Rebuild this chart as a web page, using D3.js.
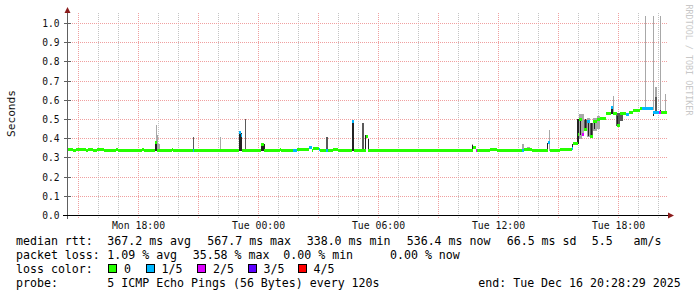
<!DOCTYPE html>
<html>
<head>
<meta charset="utf-8">
<script src="https://cdn.jsdelivr.net/npm/d3@7"></script>
<style>
  body { margin: 0; background: #fff; }
  svg { display: block; font-family: "DejaVu Sans Mono", monospace; }
</style>
</head>
<body>
<svg id="chart"></svg>
<script>

// Data /////////////////////////////////////////

const timeStart = "2025-12-15 14:28:29";
const timeEnd = "2025-12-16 20:28:29";

// median rtt in ms, held until the next entry, with lost pings out of 5
const medianSteps = [
    ["15 14:28", 343, 0], ["15 14:45", 338, 0], ["15 14:54", 343, 0], ["15 15:24", 338, 0],
    ["15 15:30", 343, 0], ["15 15:45", 338, 0], ["15 15:57", 343, 0], ["15 16:18", 338, 0],
    ["15 16:54", 342, 0], ["15 17:00", 338, 0], ["15 18:12", 342, 0], ["15 18:18", 338, 0],
    ["15 18:51", 378, 0], ["15 18:57", 338, 0], ["15 19:42", 342, 0], ["15 19:45", 338, 0],
    ["15 20:45", 338, 1], ["15 20:48", 338, 0], ["15 23:03", 430, 1], ["15 23:09", 418, 1],
    ["15 23:12", 338, 0], ["16 00:09", 372, 0], ["16 00:18", 338, 0], ["16 01:06", 342, 0],
    ["16 01:09", 338, 0], ["16 01:45", 338, 1], ["16 01:57", 342, 0], ["16 02:12", 345, 0],
    ["16 02:33", 352, 1], ["16 02:42", 338, 0], ["16 02:45", 350, 0], ["16 03:03", 345, 1],
    ["16 03:06", 338, 0], ["16 03:24", 338, 1], ["16 03:30", 338, 0], ["16 03:45", 342, 0],
    ["16 04:00", 338, 0], ["16 04:42", 492, 1], ["16 04:48", 338, 0], ["16 05:24", 412, 0],
    ["16 05:30", 338, 0], ["16 10:45", 355, 0], ["16 10:54", 338, 2], ["16 10:57", 338, 0],
    ["16 11:36", 342, 0], ["16 11:57", 338, 0], ["16 12:57", 341, 0], ["16 13:12", 338, 1],
    ["16 13:18", 345, 0], ["16 13:42", 338, 0], ["16 14:30", 380, 1], ["16 14:36", 338, 0],
    ["16 15:06", 342, 0], ["16 15:42", 347, 1], ["16 15:45", 375, 0], ["16 16:00", 420, 0],
    ["16 16:03", 500, 0], ["16 16:12", 420, 2], ["16 16:18", 450, 0], ["16 16:27", 490, 1],
    ["16 16:36", 410, 0], ["16 16:45", 490, 0], ["16 16:57", 500, 0], ["16 17:06", 505, 0],
    ["16 17:24", 530, 0], ["16 17:39", 560, 1], ["16 17:45", 530, 0], ["16 17:57", 470, 0],
    ["16 18:06", 530, 0], ["16 18:24", 525, 1], ["16 18:33", 535, 0], ["16 18:45", 545, 0],
    ["16 19:06", 555, 0], ["16 19:12", 555, 1], ["16 19:45", 535, 1], ["16 20:03", 535, 2],
    ["16 20:09", 535, 0]
];

// smoke: from, to, lowest ms, highest ms, density (0 light .. 2 dense)
const smoke = [
    ["15 18:51", "15 18:57", 338, 378, 2], ["15 18:54", "15 18:57", 378, 469, 0],
    ["15 18:57", "15 19:00", 338, 417, 0], ["15 19:00", "15 19:06", 338, 370, 0],
    ["15 20:45", "15 20:48", 338, 408, 1], ["15 22:06", "15 22:09", 338, 410, 0],
    ["15 23:03", "15 23:12", 338, 430, 2], ["15 23:21", "15 23:24", 338, 503, 1],
    ["16 00:09", "16 00:21", 338, 372, 2], ["16 02:00", "16 02:12", 338, 346, 0],
    ["16 03:24", "16 03:30", 338, 410, 1], ["16 04:42", "16 04:48", 338, 495, 2],
    ["16 05:12", "16 05:18", 338, 480, 1], ["16 05:21", "16 05:24", 338, 417, 2],
    ["16 05:30", "16 05:33", 338, 400, 2], ["16 07:51", "16 07:54", 338, 346, 0],
    ["16 10:00", "16 10:03", 338, 345, 0], ["16 10:42", "16 10:45", 338, 375, 0],
    ["16 10:42", "16 10:45", 338, 368, 2], ["16 12:57", "16 13:42", 338, 345, 0],
    ["16 13:12", "16 13:18", 338, 370, 0], ["16 13:27", "16 13:36", 338, 355, 0],
    ["16 13:39", "16 13:42", 338, 346, 2], ["16 14:27", "16 14:30", 338, 380, 2],
    ["16 14:33", "16 14:36", 338, 443, 0], ["16 15:42", "16 15:45", 345, 370, 2],
    ["16 15:57", "16 16:03", 375, 505, 2], ["16 16:03", "16 16:12", 400, 530, 0],
    ["16 16:06", "16 16:09", 420, 500, 2], ["16 16:12", "16 16:18", 420, 530, 0],
    ["16 16:18", "16 16:27", 440, 500, 1], ["16 16:21", "16 16:24", 440, 505, 2],
    ["16 16:27", "16 16:36", 410, 510, 0], ["16 16:30", "16 16:33", 415, 500, 2],
    ["16 16:36", "16 16:45", 410, 480, 1], ["16 16:39", "16 16:42", 405, 480, 2],
    ["16 16:45", "16 16:57", 440, 510, 0], ["16 16:48", "16 16:51", 450, 490, 2],
    ["16 16:57", "16 17:06", 450, 520, 0], ["16 17:39", "16 17:45", 530, 565, 2],
    ["16 17:45", "16 17:48", 530, 625, 0], ["16 17:54", "16 18:06", 465, 535, 1],
    ["16 17:57", "16 18:00", 470, 520, 2], ["16 18:06", "16 18:15", 490, 530, 1],
    ["16 19:21", "16 19:24", 550, 1040, 0], ["16 19:45", "16 19:48", 550, 1040, 0],
    ["16 19:45", "16 19:48", 520, 545, 2], ["16 19:51", "16 19:57", 540, 670, 0],
    ["16 19:51", "16 19:57", 540, 615, 1], ["16 20:06", "16 20:09", 535, 1040, 0],
    ["16 20:06", "16 20:09", 535, 550, 2], ["16 20:21", "16 20:24", 535, 635, 0]
];

const lossLabels = ["0", "1/5", "2/5", "3/5", "4/5"];
const lossColors = ["#26ff00", "#00b8ff", "#dd00ff", "#5e00ff", "#ff0000"];
const smokeColors = ["#a8a8a8", "#5a5a5a", "#222222"];

const rttStats = ["367.2 ms avg", "567.7 ms max", "338.0 ms min", "536.4 ms now", "66.5 ms sd", "5.5   am/s"];
const lossStats = ["1.09 % avg", "35.58 % max", "0.00 % min", "0.00 % now"];
const probeText = "5 ICMP Echo Pings (56 Bytes) every 120s";
const endText = "end: Tue Dec 16 20:28:29 2025";

// Setup ////////////////////////////////////////

const W = 697, H = 297;
const plot = { left: 67, right: 667, top: 13, bottom: 215.5 };

const parseFull = d3.timeParse("%Y-%m-%d %H:%M:%S");
const parseDay = s => d3.timeParse("%Y-%m-%d %H:%M")("2025-12-" + s);

const svg = d3.select("#chart").attr("width", W).attr("height", H);
svg.append("rect").attr("width", W).attr("height", H).attr("fill", "#fff");

const x = d3.scaleTime()
    .domain([parseFull(timeStart), parseFull(timeEnd)])
    .range([plot.left, plot.right]);

const y = d3.scaleLinear()
    .domain([0, 1])
    .range([215.5, 23.5]);

svg.append("defs").append("clipPath").attr("id", "plotclip")
    .append("rect")
    .attr("x", plot.left).attr("y", 15)
    .attr("width", plot.right - plot.left).attr("height", plot.bottom - 15);

// Grid /////////////////////////////////////////

// dotted lines as 1px dots in rects, so colours stay exact
const grid = svg.append("g").attr("shape-rendering", "crispEdges");

const px = v => Math.round(x(v));
const dotsV = (g, xs, color) => xs.forEach(xv => {
    for (let yy = plot.top; yy < 218; yy += 2) {
        g.append("rect").attr("x", xv).attr("y", yy).attr("width", 1).attr("height", 1).attr("fill", color);
    }
});

dotsV(grid, x.ticks(d3.timeHour.every(1)).map(px), "#c4c4c4");
dotsV(grid, x.ticks(d3.timeHour.every(3)).map(px), "#f0a0a0");

const yTicks = d3.range(0, 11).map(i => i / 10);

yTicks.slice(1).forEach(v => {
    const yy = Math.floor(y(v));
    for (let xx = plot.left + 1; xx < 668; xx += 2) {
        grid.append("rect").attr("x", xx).attr("y", yy).attr("width", 1).attr("height", 1).attr("fill", "#f0a0a0");
    }
});

// Smoke and median /////////////////////////////

const marks = svg.append("g")
    .attr("clip-path", "url(#plotclip)")
    .attr("shape-rendering", "crispEdges");

marks.selectAll(".smoke")
    .data(smoke)
    .join("rect")
    .attr("x", d => x(parseDay(d[0])))
    .attr("width", d => x(parseDay(d[1])) - x(parseDay(d[0])))
    .attr("y", d => y(d[3] / 1000))
    .attr("height", d => y(d[2] / 1000) - y(d[3] / 1000))
    .attr("fill", d => smokeColors[d[4]]);

const endDate = parseFull(timeEnd);

marks.selectAll(".median")
    .data(medianSteps)
    .join("rect")
    .attr("x", d => Math.round(x(parseDay(d[0]))))
    .attr("width", (d, i) => {
        const next = i < medianSteps.length - 1 ? parseDay(medianSteps[i + 1][0]) : endDate;
        return Math.round(x(next)) - Math.round(x(parseDay(d[0])));
    })
    .attr("y", d => Math.floor(y(d[1] / 1000)) - 1)
    .attr("height", 3)
    .attr("fill", d => lossColors[d[2]]);

// Axes /////////////////////////////////////////

const axes = svg.append("g").attr("shape-rendering", "crispEdges");

axes.append("line")
    .attr("x1", 67.5).attr("x2", 67.5).attr("y1", 219).attr("y2", 12)
    .attr("stroke", "#606060");

axes.append("line")
    .attr("x1", 63).attr("x2", 669).attr("y1", 215.5).attr("y2", 215.5)
    .attr("stroke", "#000");

axes.selectAll(".ytick")
    .data(yTicks)
    .join("line")
    .attr("x1", 64).attr("x2", 71)
    .attr("y1", d => Math.floor(y(d)) + 0.5).attr("y2", d => Math.floor(y(d)) + 0.5)
    .attr("stroke", d => d === 0 ? "#000" : "#606060");

svg.append("path")
    .attr("d", "M64.5,13 L67.5,7 L70.5,13 Z")
    .attr("fill", "#8b1c1c");
svg.append("path")
    .attr("d", "M668,212.5 L674,215.5 L668,218.5 Z")
    .attr("fill", "#8b1c1c");

svg.append("g")
    .selectAll("text")
    .data(yTicks)
    .join("text")
    .attr("x", 59.5)
    .attr("y", d => Math.floor(y(d)) + 3.8)
    .attr("text-anchor", "end")
    .attr("font-size", "9.6px")
    .attr("fill", "#111")
    .text(d3.format(".1f"));

svg.append("g")
    .selectAll("text")
    .data(x.ticks(d3.timeHour.every(6)))
    .join("text")
    .attr("x", d => px(d) + 0.5)
    .attr("y", 228.5)
    .attr("text-anchor", "middle")
    .attr("font-size", "9.8px")
    .attr("fill", "#111")
    .text(d3.timeFormat("%a %H:%M"));

svg.append("text")
    .attr("transform", "translate(15,113.5) rotate(-90)")
    .attr("text-anchor", "middle")
    .attr("font-size", "11.2px")
    .attr("fill", "#111")
    .text("Seconds");

svg.append("text")
    .attr("transform", "translate(686,60) rotate(90)")
    .attr("text-anchor", "middle")
    .attr("font-size", "8.4px")
    .attr("fill", "#c8c8c8")
    .text("RRDTOOL / TOBI OETIKER");

// Legend ///////////////////////////////////////

const legend = svg.append("g")
    .attr("font-size", "11.6px")
    .attr("fill", "#000");

const addText = (tx, ty, s) => legend.append("text")
    .attr("x", tx).attr("y", ty)
    .attr("xml:space", "preserve")
    .text(s);

const rows = [245, 259, 273, 287];
const rttX = [107.3, 207.3, 306.7, 406.7, 506.7, 591.7];
const lossX = [107.3, 192.7, 283.3, 390];

addText(16, rows[0], "median rtt:");
rttStats.forEach((s, i) => addText(rttX[i], rows[0], s));

addText(16, rows[1], "packet loss:");
lossStats.forEach((s, i) => addText(lossX[i], rows[1], s));

addText(16, rows[2], "loss color:");
const swatchX = [108.5, 146, 197.5, 248, 298];
lossLabels.forEach((s, i) => {
    legend.append("rect")
        .attr("x", swatchX[i]).attr("y", 264.5)
        .attr("width", 8).attr("height", 8)
        .attr("fill", lossColors[i])
        .attr("stroke", "#000")
        .attr("shape-rendering", "crispEdges");
    addText(swatchX[i] + 15.5, rows[2], s);
});

addText(16, rows[3], "probe:");
addText(107.3, rows[3], probeText);
addText(478.3, rows[3], endText);

</script>
</body>
</html>
